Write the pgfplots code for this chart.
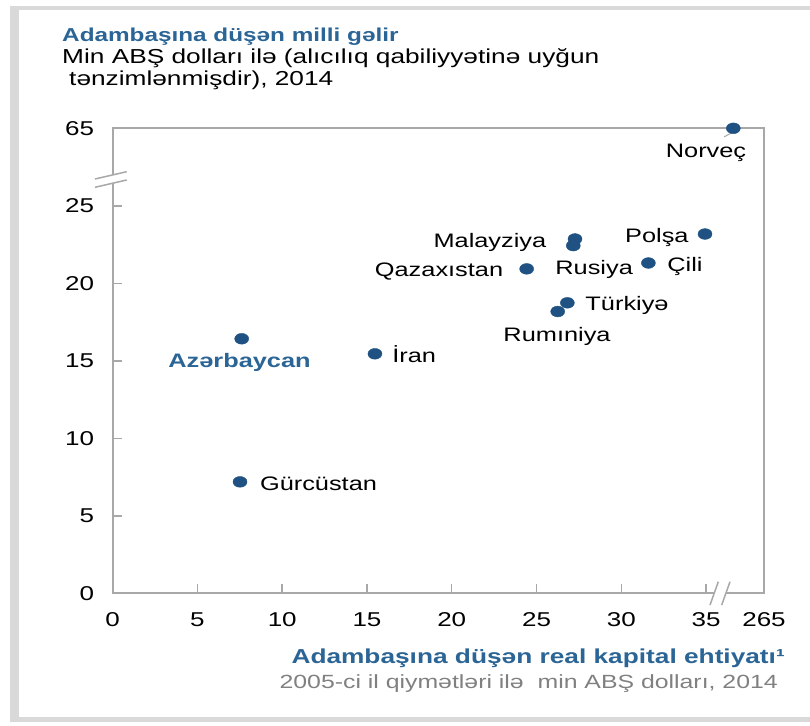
\documentclass[border=0pt]{standalone}
\usepackage{fontspec}
\setmainfont{Liberation Sans}[FakeStretch=1.3]
\usepackage{pgfplots}
\pgfplotsset{compat=1.18}

\definecolor{titleblue}{HTML}{2B6596}
\definecolor{dotblue}{HTML}{1F5282}
\definecolor{axisgray}{HTML}{A8A8A8}
\definecolor{framegray}{HTML}{D9D9D9}
\definecolor{subgray}{HTML}{808080}

\newcommand{\lbl}{\fontsize{19.5}{22}\selectfont}

\begin{document}
\begin{tikzpicture}
\useasboundingbox (0pt,0pt) rectangle (810pt,725pt);
% outer frame
\fill[framegray] (10pt,3.5pt) rectangle (18.5pt,719pt);
\fill[framegray] (10pt,715pt) rectangle (810pt,719pt);
\fill[framegray] (10pt,3.5pt) rectangle (810pt,8.5pt);

% titles
\node[anchor=base west, inner sep=0, text=titleblue, font={\fontsize{18.7}{22}\selectfont\bfseries}] at (62pt,683pt) {Adambaşına düşən milli gəlir};
\node[anchor=base west, inner sep=0, font={\fontsize{20.2}{22}\selectfont}] at (62pt,661pt) {Min ABŞ dolları ilə (alıcılıq qabiliyyətinə uyğun};
\node[anchor=base west, inner sep=0, font={\fontsize{20.2}{22}\selectfont}] at (69pt,639pt) {tənzimlənmişdir), 2014};

% x = capital stock in display units (265 is drawn at 38.42 after the break),
% y = income in display units (65 is drawn at 30 after the break)
\begin{axis}[
  at={(112.7pt,131.7pt)}, anchor=origin, scale only axis,
  width=651.3pt, height=465pt,
  xmin=0, xmax=38.42, ymin=0, ymax=30,
  axis line style={draw=axisgray, line width=2pt},
  xtick={0,5,...,35,38.42}, xticklabels={0,5,10,15,20,25,30,35,265},
  ytick={0,5,...,30}, yticklabels={0,5,10,15,20,25,65},
  xtick pos=bottom, ytick pos=left, tick align=inside,
  major tick length=9pt,
  tick style={draw=axisgray, line width=1.5pt},
  ticklabel style={font={\fontsize{20}{22}\selectfont}, text=black},
  /pgf/number format/assume math mode=true,
  xticklabel style={yshift=-16pt},
  yticklabel style={xshift=-15pt},
  clip=false,
]
\addplot[only marks, mark=*, mark size=5.4pt, color=dotblue, mark options={xscale=1.3}] coordinates {
  (7.61,16.42)  % Azərbaycan
  (15.47,15.45) % İran
  (7.51,7.19)   % Gürcüstan
  (27.27,22.86) % Malayziya
  (27.17,22.43) % Rusiya
  (34.94,23.18) % Polşa
  (31.60,21.31) % Çili
  (24.42,20.93) % Qazaxıstan
  (26.82,18.74) % Türkiyə
  (26.25,18.18) % Rumıniya
  (36.61,30)    % Norveç (65)
};
\draw[axisgray, line width=1pt] (axis cs:36.5,29.7) -- (axis cs:36.07,29.45);
\begin{scope}[every node/.style={anchor=base, inner sep=0, font=\lbl}]
\node at (axis cs:35.0,28.09) {Norveç};
\node at (axis cs:32.1,22.65) {Polşa};
\node at (axis cs:22.25,22.32) {Malayziya};
\node at (axis cs:19.25,20.43) {Qazaxıstan};
\node at (axis cs:28.4,20.56) {Rusiya};
\node at (axis cs:33.76,20.75) {Çili};
\node at (axis cs:30.34,18.24) {Türkiyə};
\node at (axis cs:26.21,16.27) {Rumıniya};
\node at (axis cs:17.78,14.87) {İran};
\node[text=titleblue, font={\lbl\bfseries}] at (axis cs:7.48,14.59) {Azərbaycan};
\node at (axis cs:12.14,6.65) {Gürcüstan};
\end{scope}
\end{axis}

% axis breaks
\fill[white] (95pt,546pt) -- (126.7pt,553.3pt) -- (126.7pt,545pt) -- (95pt,537.7pt) -- cycle;
\draw[axisgray, line width=1.5pt] (95pt,546pt) -- (126.7pt,553.3pt);
\draw[axisgray, line width=1.5pt] (95pt,537.7pt) -- (126.7pt,545pt);
\fill[white] (710pt,120pt) -- (718.3pt,143.3pt) -- (730pt,143.3pt) -- (721.7pt,120pt) -- cycle;
\draw[axisgray, line width=1.5pt] (710pt,120pt) -- (718.3pt,143.3pt);
\draw[axisgray, line width=1.5pt] (721.7pt,120pt) -- (730pt,143.3pt);

% x axis title
\node[anchor=base east, inner sep=0, text=titleblue, font={\fontsize{20.2}{22}\selectfont\bfseries}] at (785pt,62pt) {Adambaşına düşən real kapital ehtiyatı¹};
\node[anchor=base east, inner sep=0, text=subgray, font={\fontsize{19.1}{22}\selectfont}] at (778pt,37pt) {2005-ci il qiymətləri ilə\ \ min ABŞ dolları, 2014};
\end{tikzpicture}
\end{document}
